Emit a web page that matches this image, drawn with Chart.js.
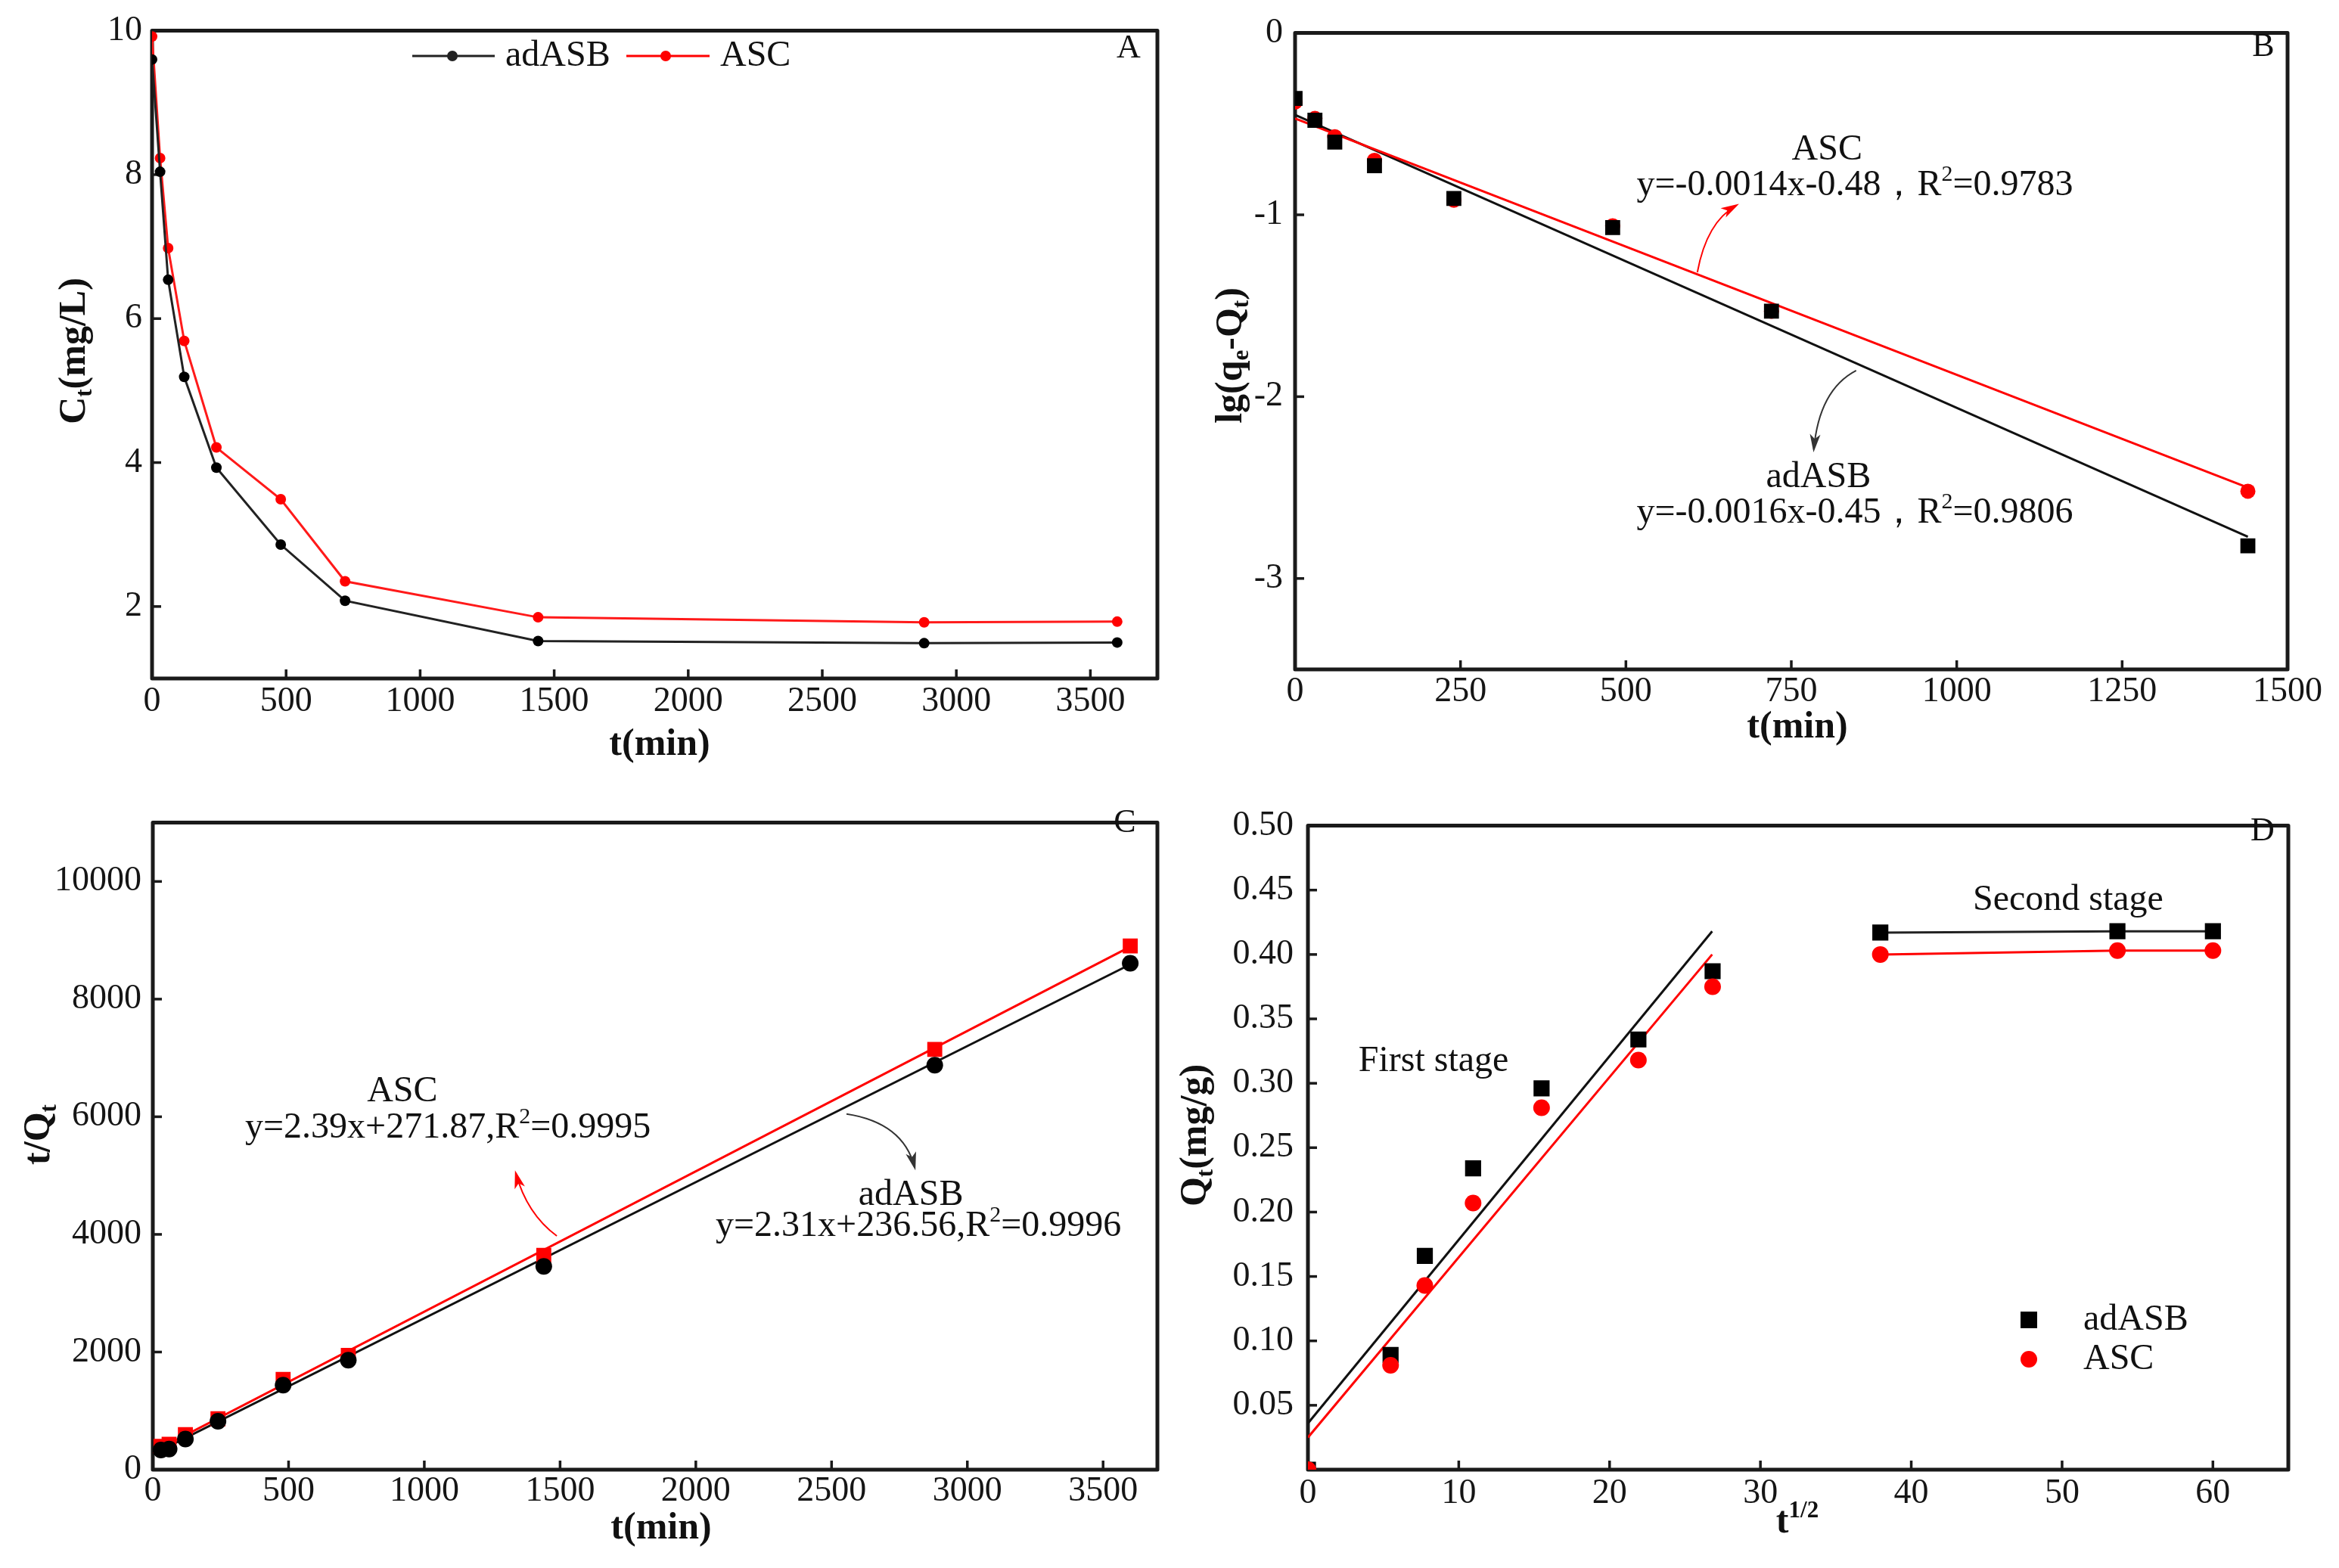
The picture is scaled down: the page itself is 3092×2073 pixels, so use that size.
<!DOCTYPE html>
<html><head><meta charset="utf-8">
<script src="https://cdn.jsdelivr.net/npm/chart.js@4.4.1/dist/chart.umd.min.js"></script>
<style>
body{margin:0;background:#fff;width:3092px;height:2073px;overflow:hidden;position:relative}
.p{position:absolute}
canvas{display:block}
</style></head><body>
<div class="p" style="left:0;top:0;width:1546px;height:1045px"><canvas id="cA" width="1546" height="1045"></canvas></div>
<div class="p" style="left:1546px;top:0;width:1546px;height:1045px"><canvas id="cB" width="1546" height="1045"></canvas></div>
<div class="p" style="left:0;top:1045px;width:1546px;height:1028px"><canvas id="cC" width="1546" height="1028"></canvas></div>
<div class="p" style="left:1546px;top:1045px;width:1546px;height:1028px"><canvas id="cD" width="1546" height="1028"></canvas></div>
<script>
// ---------------- DATA ----------------
const timeMin = [0, 30, 60, 120, 240, 480, 720, 1440, 2880, 3600];
const ctA_adASB = [9.60, 8.04, 6.54, 5.19, 3.93, 2.86, 2.08, 1.52, 1.49, 1.50];
const ctA_ASC   = [9.92, 8.23, 6.98, 5.69, 4.21, 3.49, 2.35, 1.85, 1.78, 1.79];

const timeB = [0, 30, 60, 120, 240, 480, 720, 1440];
const lgB_adASB = [-0.36, -0.48, -0.60, -0.73, -0.91, -1.07, -1.53, -2.82];
const lgB_ASC   = [-0.38, -0.47, -0.57, -0.70, -0.92, -1.06, -1.53, -2.52];
const fitB_t = [0, 1440];
const fitB_adASB = [-0.45, -2.77];
const fitB_ASC   = [-0.47, -2.50];

const timeC = [30, 60, 120, 240, 480, 720, 1440, 2880, 3600];
const tqC_adASB = [334, 350, 521, 824, 1438, 1862, 3457, 6877, 8610];
const tqC_ASC   = [398, 431, 596, 865, 1536, 1944, 3645, 7146, 8904];
const fitC_t = [0, 3600];
const fitC_adASB = [260, 8590];
const fitC_ASC   = [300, 8890];

const sqrtT = [0, 5.48, 7.75, 10.95, 15.49, 21.91, 26.83, 37.95, 53.67, 60.00];
const qtD_adASB = [0, 0.089, 0.166, 0.234, 0.296, 0.334, 0.387, 0.417, 0.418, 0.418];
const qtD_ASC   = [0, 0.081, 0.143, 0.207, 0.281, 0.318, 0.375, 0.400, 0.403, 0.403];
const fitD_s = [0, 26.8];
const fitD_adASB = [0.036, 0.418];
const fitD_ASC   = [0.025, 0.400];
const secondStageFrom = 7;

// tick labels
const ticksA_x = [0, 500, 1000, 1500, 2000, 2500, 3000, 3500];
const ticksA_y = [2, 4, 6, 8, 10];
const ticksB_x = [0, 250, 500, 750, 1000, 1250, 1500];
const ticksB_y = [-3, -2, -1, 0];
const ticksC_x = [0, 500, 1000, 1500, 2000, 2500, 3000, 3500];
const ticksC_y = [0, 2000, 4000, 6000, 8000, 10000];
const ticksD_x = [0, 10, 20, 30, 40, 50, 60];
const ticksD_y = [0, 0.05, 0.10, 0.15, 0.20, 0.25, 0.30, 0.35, 0.40, 0.45, 0.50];

// ---------------- HELPERS ----------------
const FAM = '"Liberation Serif", "DejaVu Serif", serif';
const RED = '#ff0000', BLK = '#000000';
const pts = (xs, ys) => xs.map((x, i) => ({x, y: ys[i]}));

function richParts(str){
  const out=[]; let i=0, buf='';
  while(i<str.length){
    const c=str[i];
    if((c==='_'||c==='^') && str[i+1]==='{'){
      if(buf){out.push([buf,'']);buf='';}
      const j=str.indexOf('}',i);
      out.push([str.slice(i+2,j), c==='_'?'sub':'sup']); i=j+1;
    } else {buf+=c;i++;}
  }
  if(buf) out.push([buf,'']);
  return out;
}
function drawRich(ctx, str, x, y, size, o={}){
  const bold=o.bold, align=o.align||'center', rot=o.rot||0, color=o.color||'#111';
  const parts=richParts(str);
  const fontFor=m=>(bold?'bold ':'')+(m?Math.round(size*0.62):size)+'px '+FAM;
  let total=0; parts.forEach(p=>{ctx.font=fontFor(p[1]); total+=ctx.measureText(p[0]).width;});
  ctx.save(); ctx.translate(x,y); ctx.rotate(rot); ctx.fillStyle=color;
  ctx.textBaseline='middle'; ctx.textAlign='left';
  let cx = align==='center'? -total/2 : (align==='right'? -total : 0);
  parts.forEach(p=>{
    ctx.font=fontFor(p[1]);
    const dy = p[1]==='sub'? size*0.28 : (p[1]==='sup'? -size*0.3 : 0);
    ctx.fillText(p[0],cx,dy); cx+=ctx.measureText(p[0]).width;
  });
  ctx.restore();
}

function axis(min, max, tickVals, fmt, pad, fitSize, isX){
  return {
    type:'linear', min, max,
    afterBuildTicks: s => { s.ticks = tickVals.map(v => ({value: v})); },
    afterFit: s => { if(isX) s.height = fitSize; else s.width = fitSize; },
    grid:{display:false, drawTicks:false},
    border:{display:false},
    ticks:{padding:pad, color:'#151515', autoSkip:false, maxRotation:0,
      font:{family:FAM, size:46}, callback: fmt}
  };
}

const deco = {
  id:'deco',
  beforeDatasetsDraw(chart, args, o){
    const ctx=chart.ctx, a=chart.chartArea;
    ctx.save();
    ctx.strokeStyle='#1a1a1a'; ctx.lineWidth=5; ctx.lineJoin='round';
    ctx.strokeRect(a.left, a.top, a.right-a.left, a.bottom-a.top);
    ctx.lineWidth=3.5;
    const sx=chart.scales.x, sy=chart.scales.y;
    sx.ticks.forEach(t=>{ const px=sx.getPixelForValue(t.value);
      if(px<=a.left+2||px>=a.right-2) return;
      ctx.beginPath(); ctx.moveTo(px,a.bottom); ctx.lineTo(px,a.bottom-12); ctx.stroke(); });
    sy.ticks.forEach(t=>{ const py=sy.getPixelForValue(t.value);
      if(py<=a.top+2||py>=a.bottom-2) return;
      ctx.beginPath(); ctx.moveTo(a.left,py); ctx.lineTo(a.left+12,py); ctx.stroke(); });
    ctx.restore();
  },
  afterDatasetsDraw(chart, args, o){
    const ctx=chart.ctx, sx=chart.scales.x, sy=chart.scales.y;
    const X=v=>sx.getPixelForValue(v), Y=v=>sy.getPixelForValue(v);
    (o.arrows||[]).forEach(ar=>{
      const x0=X(ar.from[0]), y0=Y(ar.from[1]), cx=X(ar.ctrl[0]), cy=Y(ar.ctrl[1]), x1=X(ar.to[0]), y1=Y(ar.to[1]);
      ctx.save(); ctx.strokeStyle=ar.color; ctx.fillStyle=ar.color; ctx.lineWidth=2;
      ctx.beginPath(); ctx.moveTo(x0,y0); ctx.quadraticCurveTo(cx,cy,x1,y1); ctx.stroke();
      const ang=Math.atan2(y1-cy,x1-cx), L=20, W=7;
      ctx.beginPath(); ctx.moveTo(x1+Math.cos(ang)*4,y1+Math.sin(ang)*4);
      ctx.lineTo(x1-Math.cos(ang)*L+Math.sin(ang)*W, y1-Math.sin(ang)*L-Math.cos(ang)*W);
      ctx.lineTo(x1-Math.cos(ang)*L*0.7, y1-Math.sin(ang)*L*0.7);
      ctx.lineTo(x1-Math.cos(ang)*L-Math.sin(ang)*W, y1-Math.sin(ang)*L+Math.cos(ang)*W);
      ctx.closePath(); ctx.fill(); ctx.restore();
    });
    (o.notes||[]).forEach(n=> drawRich(ctx, n.text, X(n.at[0]), Y(n.at[1]), n.size||48, {}));
    (o.legend||[]).forEach(l=>{
      ctx.save();
      if(l.line){ ctx.strokeStyle=l.color; ctx.lineWidth=3; ctx.beginPath(); ctx.moveTo(l.line[0],l.y); ctx.lineTo(l.line[1],l.y); ctx.stroke(); }
      ctx.fillStyle=l.color;
      if(l.shape==='rect'){ ctx.fillRect(l.mx-l.r,l.y-l.r,2*l.r,2*l.r); }
      else { ctx.beginPath(); ctx.arc(l.mx,l.y,l.r,0,Math.PI*2); ctx.fill(); }
      ctx.restore();
      drawRich(ctx, l.text, l.tx, l.y, 48, {align:'left'});
    });
    (o.titles||[]).forEach(t=> drawRich(ctx, t.text, t.x, t.y, t.size||50, {bold:true, rot:t.rot||0}));
    if(o.letter) drawRich(ctx, o.letter.text, o.letter.x, o.letter.y, 44, {});
  }
};
Chart.register(deco);

function baseOpts(pad, scales, decoOpts){
  return {
    responsive:false, animation:false, devicePixelRatio:1,
    layout:{padding:pad},
    scales,
    plugins:{legend:{display:false}, tooltip:{enabled:false}, deco:decoOpts}
  };
}
const intFmt = v => String(v);

// ---------------- CHART A ----------------
new Chart(document.getElementById('cA'), {
  type:'scatter',
  data:{datasets:[
    {label:'adASB', data:pts(timeMin, ctA_adASB), showLine:true, borderColor:'#222', borderWidth:3,
     backgroundColor:BLK, pointBackgroundColor:BLK, pointBorderWidth:0, pointRadius:7, pointStyle:'circle'},
    {label:'ASC', data:pts(timeMin, ctA_ASC), showLine:true, borderColor:'#ff1a1a', borderWidth:3,
     backgroundColor:RED, pointBackgroundColor:RED, pointBorderWidth:0, pointRadius:7, pointStyle:'circle'}
  ]},
  options: baseOpts({top:29,right:16,left:0,bottom:0},{
    x: axis(0, 3750, ticksA_x, intFmt, 3, 148, true),
    y: axis(1, 10, ticksA_y, intFmt, 13, 201, false)
  },{
    titles:[{text:'C_{t}(mg/L)', x:99, y:464, rot:-Math.PI/2},{text:'t(min)', x:872, y:985}],
    legend:[
      {line:[545,654], mx:598, y:74, r:7, color:'#222', shape:'circle', text:'adASB', tx:668},
      {line:[828,938], mx:880, y:74, r:7, color:RED, shape:'circle', text:'ASC', tx:952}
    ],
    letter:{text:'A', x:1492, y:64}
  })
});

// ---------------- CHART B ----------------
new Chart(document.getElementById('cB'), {
  type:'scatter',
  data:{datasets:[
    {label:'adASB', data:pts(timeB, lgB_adASB), pointStyle:'rect', pointRadius:14, pointBackgroundColor:BLK, pointBorderWidth:0, backgroundColor:BLK},
    {label:'ASC', data:pts(timeB, lgB_ASC), pointStyle:'circle', pointRadius:10, pointBackgroundColor:RED, pointBorderWidth:0, backgroundColor:RED},
    {label:'ASC fit', data:pts(fitB_t, fitB_ASC), showLine:true, pointRadius:0, borderColor:RED, borderWidth:3},
    {label:'adASB fit', data:pts(fitB_t, fitB_adASB), showLine:true, pointRadius:0, borderColor:'#111', borderWidth:3}
  ]},
  options: baseOpts({top:29,right:68,left:0,bottom:0},{
    x: axis(0, 1500, ticksB_x, intFmt, 2, 160, true),
    y: axis(-3.5, 0, ticksB_y, intFmt, 16, 166, false)
  },{
    titles:[{text:'lg(q_{e}-Q_{t})', x:82, y:470, rot:-Math.PI/2},{text:'t(min)', x:830, y:962}],
    notes:[
      {text:'ASC', at:[804,-0.642]},
      {text:'y=-0.0014x-0.48，R^{2}=0.9783', at:[846,-0.838]},
      {text:'adASB', at:[791,-2.445]},
      {text:'y=-0.0016x-0.45，R^{2}=0.9806', at:[846,-2.641]}
    ],
    arrows:[
      {from:[608,-1.316], ctrl:[622,-1.04], to:[667,-0.948], color:RED},
      {from:[848,-1.856], ctrl:[792,-1.962], to:[784,-2.29], color:'#333'}
    ],
    letter:{text:'B', x:1446, y:62}
  })
});

// ---------------- CHART C ----------------
new Chart(document.getElementById('cC'), {
  type:'scatter',
  data:{datasets:[
    {label:'adASB', data:pts(timeC, tqC_adASB), pointStyle:'circle', pointRadius:11, pointBackgroundColor:BLK, pointBorderWidth:0, backgroundColor:BLK},
    {label:'ASC', data:pts(timeC, tqC_ASC), pointStyle:'rect', pointRadius:14, pointBackgroundColor:RED, pointBorderWidth:0, backgroundColor:RED},
    {label:'ASC fit', data:pts(fitC_t, fitC_ASC), showLine:true, pointRadius:0, borderColor:RED, borderWidth:3},
    {label:'adASB fit', data:pts(fitC_t, fitC_adASB), showLine:true, pointRadius:0, borderColor:'#111', borderWidth:3}
  ]},
  options: baseOpts({top:12,right:16,left:0,bottom:0},{
    x: axis(0, 3700, ticksC_x, intFmt, 1, 130, true),
    y: axis(0, 11000, ticksC_y, intFmt, 15, 202, false)
  },{
    titles:[{text:'t/Q_{t}', x:52, y:455, rot:-Math.PI/2},{text:'t(min)', x:874, y:976}],
    notes:[
      {text:'ASC', at:[919,6431]},
      {text:'y=2.39x+271.87,R^{2}=0.9995', at:[1087,5810]},
      {text:'adASB', at:[2792,4668]},
      {text:'y=2.31x+236.56,R^{2}=0.9996', at:[2820,4134]}
    ],
    arrows:[
      {from:[1488,3973], ctrl:[1378,4345], to:[1337,5040], color:RED},
      {from:[2555,6046], ctrl:[2764,5897], to:[2806,5140], color:'#333'}
    ],
    letter:{text:'C', x:1487, y:43}
  })
});

// ---------------- CHART D ----------------
new Chart(document.getElementById('cD'), {
  type:'scatter',
  data:{datasets:[
    {label:'ASC', data:pts(sqrtT, qtD_ASC), pointStyle:'circle', pointRadius:11, pointBackgroundColor:RED, pointBorderWidth:0, backgroundColor:RED},
    {label:'adASB', data:pts(sqrtT, qtD_adASB), pointStyle:'rect', pointRadius:15, pointBackgroundColor:BLK, pointBorderWidth:0, backgroundColor:BLK},
    {label:'adASB second stage', data:pts(sqrtT.slice(secondStageFrom), qtD_adASB.slice(secondStageFrom)), showLine:true, pointRadius:0, borderColor:'#222', borderWidth:3},
    {label:'ASC second stage', data:pts(sqrtT.slice(secondStageFrom), qtD_ASC.slice(secondStageFrom)), showLine:true, pointRadius:0, borderColor:RED, borderWidth:3},
    {label:'ASC first stage fit', data:pts(fitD_s, fitD_ASC), showLine:true, pointRadius:0, borderColor:RED, borderWidth:3},
    {label:'adASB first stage fit', data:pts(fitD_s, fitD_adASB), showLine:true, pointRadius:0, borderColor:'#111', borderWidth:3}
  ]},
  options: baseOpts({top:19,right:67,left:0,bottom:0},{
    x: axis(0, 65, ticksD_x, intFmt, 4, 130, true),
    y: axis(0, 0.5, ticksD_y, v => (v === 0 ? '' : v.toFixed(2)), 19, 183, false)
  },{
    titles:[{text:'Q_{t}(mg/g)', x:35, y:456, rot:-Math.PI/2},{text:'t^{1/2}', x:830, y:968}],
    notes:[
      {text:'First stage', at:[8.33,0.317]},
      {text:'Second stage', at:[50.4,0.442]}
    ],
    legend:[
      {mx:1136, y:700, r:11, color:BLK, shape:'rect', text:'adASB', tx:1208},
      {mx:1136, y:752, r:11, color:RED, shape:'circle', text:'ASC', tx:1208}
    ],
    letter:{text:'D', x:1445, y:54}
  })
});
</script>
</body></html>
